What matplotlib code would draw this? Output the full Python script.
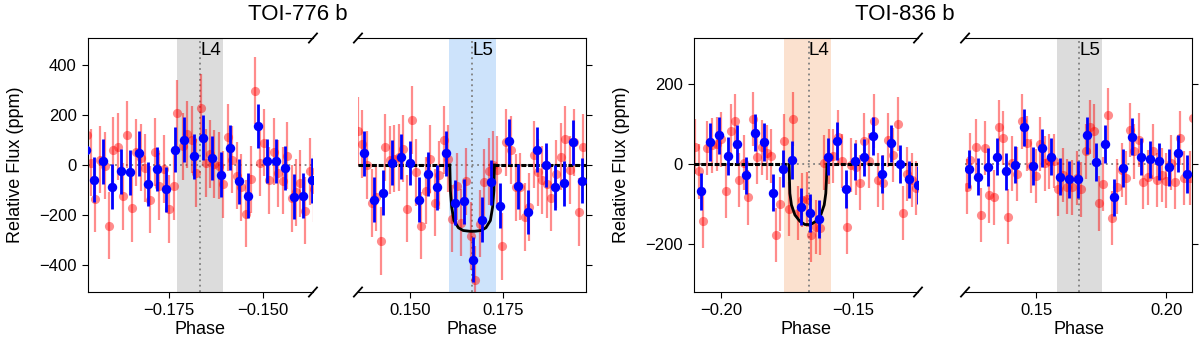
import numpy as np
import matplotlib
matplotlib.use("Agg")
import matplotlib.pyplot as plt
import matplotlib.transforms as mtransforms

plt.rcParams['font.family'] = ['Liberation Sans', 'DejaVu Sans']

# ── Data: TOI-776 b, L4 side ──────────────────────────────────────────────────
t776_l4_red_phase = [-0.1970, -0.1960, -0.1947, -0.1935, -0.1922, -0.1911, -0.1899, -0.1886, -0.1874, -0.1862,
                     -0.1849, -0.1838, -0.1824, -0.1815, -0.1802, -0.1788, -0.1776, -0.1763, -0.1751, -0.1738,
                     -0.1728, -0.1712, -0.1702, -0.1690, -0.1678, -0.1666, -0.1653, -0.1642, -0.1629, -0.1617,
                     -0.1606, -0.1593, -0.1581, -0.1569, -0.1558, -0.1546, -0.1532, -0.1520, -0.1508, -0.1497,
                     -0.1483, -0.1471, -0.1459, -0.1447, -0.1435, -0.1423, -0.1411, -0.1401, -0.1387, -0.1374,
                     -0.1364]
t776_l4_red_flux = [120, 10, -136, 22, -2, -243, 59, 73, -126, 121,
                    -174, 51, 30, -12, -139, 52, -85, -16, -177, -85,
                    208, 75, 124, 102, -32, 230, 8, 44, 4, -2,
                    -78, 112, 22, -43, -90, -196, -58, 298, 10, 90,
                    -61, 53, -33, -63, 37, -134, -110, -73, -183, -26,
                    -95]
t776_l4_blue_phase = [-0.1971, -0.1952, -0.1927, -0.1904, -0.1879, -0.1855, -0.1831, -0.1806, -0.1782, -0.1758,
                      -0.1734, -0.1710, -0.1685, -0.1660, -0.1636, -0.1612, -0.1588, -0.1564, -0.1540, -0.1514,
                      -0.1490, -0.1466, -0.1441, -0.1417, -0.1393, -0.1369]
t776_l4_blue_flux = [62, -59, 15, -87, -25, -30, 47, -76, -16, -97,
                     62, 101, 35, 110, 28, -39, 70, -66, -123, 157,
                     16, 16, -12, -127, -123, -62]

# ── Data: TOI-776 b, L5 side ──────────────────────────────────────────────────
t776_l5_red_phase = [0.1360, 0.1372, 0.1384, 0.1397, 0.1409, 0.1421, 0.1433, 0.1445, 0.1457, 0.1469,
                     0.1481, 0.1493, 0.1505, 0.1517, 0.1530, 0.1542, 0.1554, 0.1566, 0.1578, 0.1590,
                     0.1602, 0.1614, 0.1626, 0.1638, 0.1651, 0.1663, 0.1675, 0.1687, 0.1699, 0.1711,
                     0.1723, 0.1735, 0.1747, 0.1759, 0.1771, 0.1784, 0.1796, 0.1808, 0.1820, 0.1832,
                     0.1844, 0.1856, 0.1868, 0.1880, 0.1892, 0.1905, 0.1917, 0.1929, 0.1941, 0.1953,
                     0.1965]
t776_l5_red_flux = [137, 84, 0, -153, -129, -305, 71, 20, 26, 31,
                    65, -176, 181, -30, -244, -103, 24, -152, -40, 100,
                    25, -215, -85, -232, -66, -285, -460, -235, -69, -25,
                    0, -20, -327, 91, 60, -89, -87, -209, -169, 41,
                    -29, -60, -76, -132, -36, 33, 104, -20, 91, -189,
                    71]
t776_l5_blue_phase = [0.1377, 0.1402, 0.1427, 0.1451, 0.1476, 0.1500, 0.1524, 0.1549, 0.1573, 0.1597,
                      0.1621, 0.1645, 0.1669, 0.1694, 0.1719, 0.1743, 0.1767, 0.1791, 0.1816, 0.1841,
                      0.1865, 0.1890, 0.1914, 0.1939, 0.1963]
t776_l5_blue_flux = [47, -140, -112, 10, 33, 8, -140, -36, -89, 47,
                     -152, -145, -380, -220, -69, -163, 95, -85, -189, 61,
                     0, -89, -73, 91, -63]
t776_model_phase = [0.1607, 0.16085, 0.1612, 0.1618, 0.1630, 0.1643, 0.1660,
                    0.1674, 0.1691, 0.1704, 0.1716, 0.1722, 0.17255, 0.1727]
t776_model_flux = [0, -103, -169, -223, -252, -263, -266,
                   -266, -263, -252, -223, -169, -103, 0]

# ── Data: TOI-836 b, L4 side ──────────────────────────────────────────────────
t836_l4_red_phase = [-0.2098, -0.2083, -0.2067, -0.2052, -0.2034, -0.2016, -0.2000, -0.1981, -0.1963, -0.1947,
                     -0.1931, -0.1913, -0.1897, -0.1878, -0.1862, -0.1844, -0.1827, -0.1812, -0.1793, -0.1777,
                     -0.1760, -0.1742, -0.1726, -0.1707, -0.1692, -0.1675, -0.1659, -0.1640, -0.1624, -0.1609,
                     -0.1590, -0.1575, -0.1558, -0.1541, -0.1524, -0.1509, -0.1490, -0.1473, -0.1457, -0.1438,
                     -0.1419, -0.1404, -0.1385, -0.1366, -0.1350, -0.1328, -0.1312, -0.1294, -0.1278, -0.1261]
t836_l4_red_flux = [44, -18, -141, 40, 47, 51, 62, -67, 83, 107,
                    -39, 4, -83, 113, 19, 42, 29, 21, -178, -99,
                    58, -112, 113, -123, -89, -88, -178, -158, -160, 4,
                    19, 21, 69, 8, -158, -2, -8, -46, 59, 9,
                    109, -39, -46, 61, 23, 101, -123, -24, -39, -60]
t836_l4_blue_phase = [-0.2077, -0.2042, -0.2008, -0.1973, -0.1938, -0.1904, -0.1870, -0.1836, -0.1802, -0.1766,
                      -0.1732, -0.1698, -0.1664, -0.1630, -0.1596, -0.1562, -0.1528, -0.1494, -0.1459, -0.1425,
                      -0.1390, -0.1356, -0.1322, -0.1288, -0.1254]
t836_l4_blue_flux = [-68, 56, 72, 21, 51, -28, 79, 56, -71, -11,
                     10, -106, -122, -137, 19, 58, -62, 7, 17, 71,
                     -25, 52, 1, -38, -52]
t836_model_phase = [-0.1742, -0.17405, -0.1739, -0.1733, -0.1720, -0.1701, -0.1682,
                    -0.1660, -0.1641, -0.1622, -0.1609, -0.1603, -0.16005, -0.1599]
t836_model_flux = [0, -39, -73, -102, -127, -143, -151,
                   -151, -143, -127, -102, -73, -39, 0]

# ── Data: TOI-836 b, L5 side ──────────────────────────────────────────────────
t836_l5_red_phase = [0.1236, 0.1246, 0.1269, 0.1287, 0.1304, 0.1320, 0.1340, 0.1358, 0.1374, 0.1393,
                     0.1409, 0.1428, 0.1445, 0.1464, 0.1481, 0.1499, 0.1515, 0.1535, 0.1551, 0.1569,
                     0.1586, 0.1605, 0.1620, 0.1640, 0.1657, 0.1673, 0.1691, 0.1708, 0.1724, 0.1741,
                     0.1759, 0.1776, 0.1793, 0.1810, 0.1830, 0.1845, 0.1862, 0.1878, 0.1897, 0.1913,
                     0.1932, 0.1949, 0.1967, 0.1983, 0.2000, 0.2019, 0.2036, 0.2054, 0.2070, 0.2092,
                     0.2103]
t836_l5_red_flux = [-56, 11, 44, -128, 40, -78, -83, 94, 65, -131,
                    2, -24, 107, 52, -4, -29, 51, 2, 7, 8,
                    -62, -27, -56, -58, -35, -63, 32, 94, 84, -98,
                    -49, 123, -135, -56, -14, -35, 86, 32, 61, -44,
                    -33, 32, -39, -27, -41, 4, -44, 65, -34, -34,
                    115]
t836_l5_blue_phase = [0.1243, 0.1278, 0.1314, 0.1349, 0.1383, 0.1418, 0.1453, 0.1487, 0.1522, 0.1557,
                      0.1591, 0.1627, 0.1662, 0.1696, 0.1731, 0.1765, 0.1800, 0.1835, 0.1870, 0.1905,
                      0.1940, 0.1974, 0.2010, 0.2045, 0.2080]
t836_l5_blue_flux = [-12, -31, -7, 19, -18, -1, 92, -4, 40, 19,
                     -31, -38, -38, 72, 6, 50, -83, -10, 69, 19,
                     12, 7, -8, 27, -24]

# typical error bar half-lengths (ppm)
t776_red_err, t776_blue_err = 135, 90
t836_red_err, t836_blue_err = 68, 47

# ── Style ────────────────────────────────────────────────────────────────────
RED = (1.0, 0.0, 0.0, 0.45)
BLUE = '#0000ff'
SHADE_GRAY = '#dcdcdc'
SHADE_BLUE = '#cde3fb'
SHADE_ORANGE = '#fbe1cf'

fig = plt.figure(figsize=(12, 3.45), dpi=100)

H_BOT, H_HT = 0.1536, 0.7362
ax1 = fig.add_axes([0.0733, H_BOT, 0.1875, H_HT])
ax2 = fig.add_axes([0.2983, H_BOT, 0.1900, H_HT])
ax3 = fig.add_axes([0.5783, H_BOT, 0.1867, H_HT])
ax4 = fig.add_axes([0.8042, H_BOT, 0.1892, H_HT])


def draw_panel(ax, rp, rf, rerr, bp, bf, berr, lag, span, shade, label, xlim, ylim):
    ax.axvspan(span[0], span[1], color=shade, lw=0, zorder=0)
    ax.axhline(0, color='gray', ls=(0, (1, 2)), lw=1.3, zorder=1)
    ax.axvline(lag, color='gray', ls=(0, (1, 2)), lw=1.3, zorder=1)
    ax.errorbar(rp, rf, yerr=rerr, fmt='o', color=RED, ms=6.6, mew=0,
                elinewidth=1.6, capsize=0, zorder=2)
    ax.errorbar(bp, bf, yerr=berr, fmt='o', color=BLUE, ms=6.8, mew=0,
                elinewidth=2.0, capsize=0, zorder=4)
    trans = mtransforms.blended_transform_factory(ax.transData, ax.transAxes)
    ax.text(lag, 0.985, label, transform=trans, ha='left', va='top', fontsize=13.5, zorder=5)
    ax.set_xlim(xlim)
    ax.set_ylim(ylim)
    ax.set_xlabel('Phase', fontsize=13, labelpad=2)
    ax.tick_params(labelsize=12, direction='out', length=4.5)


def draw_model(ax, mp, mf, xlim):
    ax.plot(mp, mf, color='k', lw=2.0, zorder=3)
    ax.plot([xlim[0], mp[0]], [0, 0], color='k', lw=2.2, ls=(0, (1.6, 0.6)), zorder=3)
    ax.plot([mp[-1], xlim[1]], [0, 0], color='k', lw=2.2, ls=(0, (1.6, 0.6)), zorder=3)


def break_marks(ax, side):
    d = 0.018
    x0 = 1 if side == 'right' else 0
    kw = dict(transform=ax.transAxes, color='k', lw=1.3, clip_on=False)
    ax.plot([x0 - d, x0 + d], [-d, d], **kw)
    ax.plot([x0 - d, x0 + d], [1 - d, 1 + d], **kw)


YL_776 = (-510, 510)
YL_836 = (-320, 316)
XL1, XL2 = (-0.1967, -0.1366), (0.1360, 0.1973)
XL3, XL4 = (-0.2102, -0.1254), (0.1227, 0.2100)

draw_panel(ax1, t776_l4_red_phase, t776_l4_red_flux, t776_red_err,
           t776_l4_blue_phase, t776_l4_blue_flux, t776_blue_err,
           -1 / 6, (-0.1729, -0.1607), SHADE_GRAY, 'L4', XL1, YL_776)
draw_panel(ax2, t776_l5_red_phase, t776_l5_red_flux, t776_red_err,
           t776_l5_blue_phase, t776_l5_blue_flux, t776_blue_err,
           1 / 6, (0.1605, 0.1731), SHADE_BLUE, 'L5', XL2, YL_776)
draw_model(ax2, t776_model_phase, t776_model_flux, XL2)
draw_panel(ax3, t836_l4_red_phase, t836_l4_red_flux, t836_red_err,
           t836_l4_blue_phase, t836_l4_blue_flux, t836_blue_err,
           -1 / 6, (-0.1761, -0.1583), SHADE_ORANGE, 'L4', XL3, YL_836)
draw_model(ax3, t836_model_phase, t836_model_flux, XL3)
draw_panel(ax4, t836_l5_red_phase, t836_l5_red_flux, t836_red_err,
           t836_l5_blue_phase, t836_l5_blue_flux, t836_blue_err,
           1 / 6, (0.1581, 0.1754), SHADE_GRAY, 'L5', XL4, YL_836)

# ticks
ax1.set_xticks([-0.175, -0.150], ['\u22120.175', '\u22120.150'])
ax2.set_xticks([0.150, 0.175], ['0.150', '0.175'])
ax3.set_xticks([-0.20, -0.15], ['\u22120.20', '\u22120.15'])
ax4.set_xticks([0.15, 0.20], ['0.15', '0.20'])
for ax in (ax1, ax2):
    ax.set_yticks([-400, -200, 0, 200, 400])
for ax in (ax3, ax4):
    ax.set_yticks([-200, 0, 200])

# broken-axis styling
for left, right in ((ax1, ax2), (ax3, ax4)):
    left.spines['right'].set_visible(False)
    right.spines['left'].set_visible(False)
    left.yaxis.tick_left()
    right.yaxis.tick_right()
    right.tick_params(axis='y', labelright=False)
    left.set_ylabel('Relative Flux (ppm)', fontsize=13, labelpad=11)
    break_marks(left, 'right')
    break_marks(right, 'left')

fig.text(0.2479, 0.942, 'TOI-776 b', fontsize=16, ha='center', va='baseline')
fig.text(0.7540, 0.942, 'TOI-836 b', fontsize=16, ha='center', va='baseline')

fig.savefig('out.png', dpi=100)
